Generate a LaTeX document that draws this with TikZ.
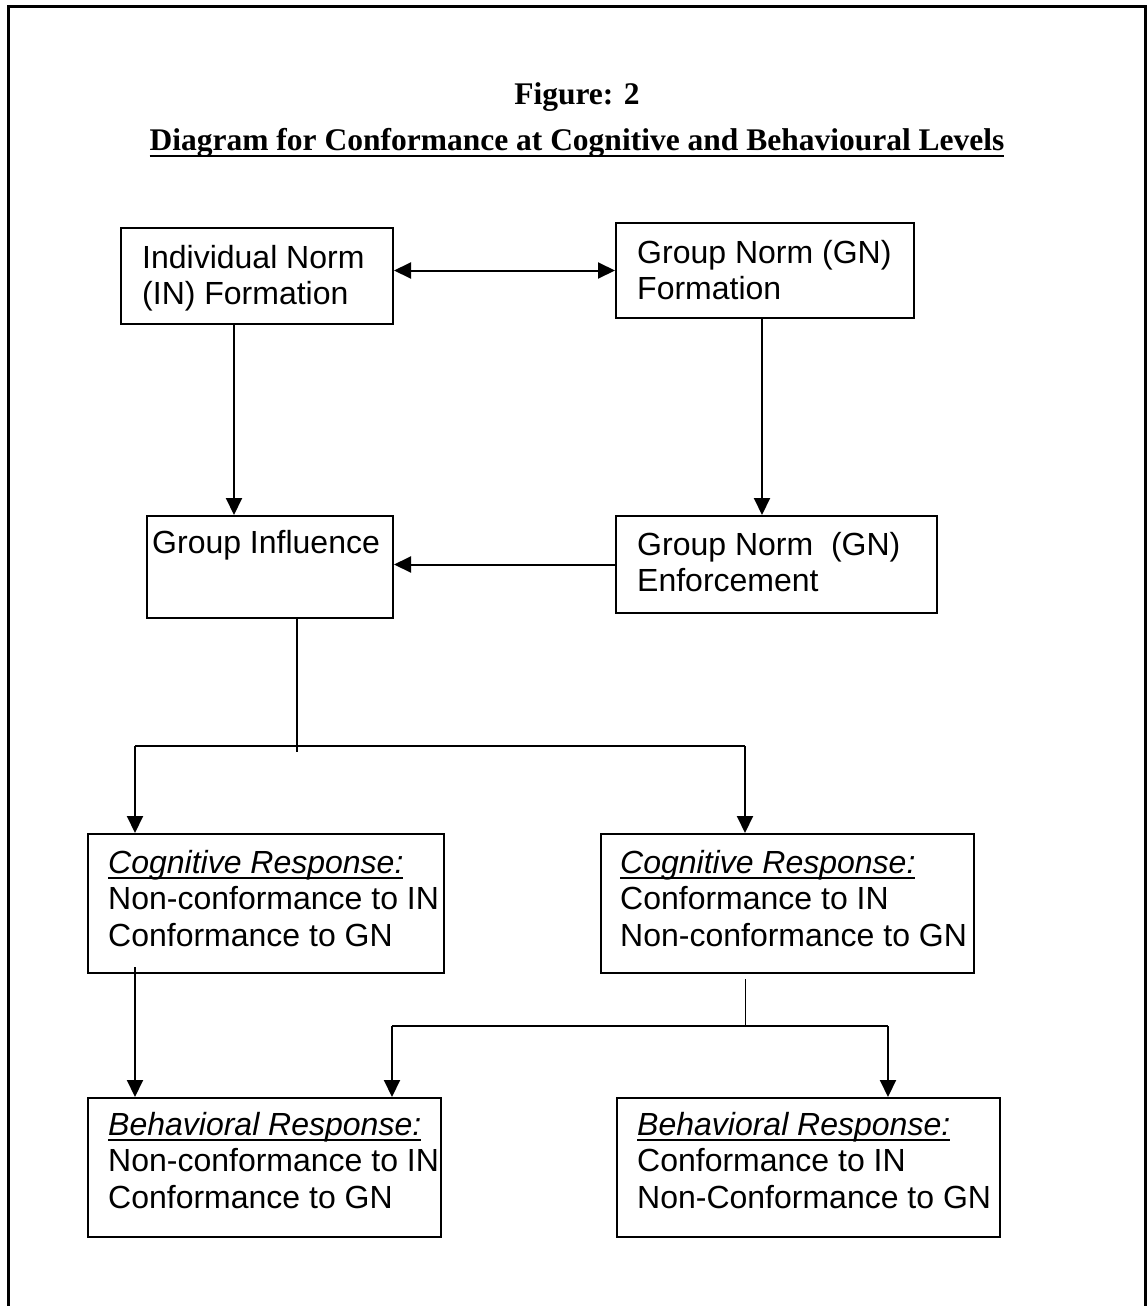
\documentclass[tikz,border=0pt]{standalone}
\usepackage{fontspec}
\setmainfont{Liberation Sans}
\newfontfamily\ttlfont{Liberation Serif}
\usetikzlibrary{arrows.meta}
% underline with a rule of our own: #1 = depth of the rule
\newcommand{\undl}[2]{\setbox0\hbox{#2}\rlap{\rule[-#1]{\wd0}{2pt}}\box0}
\begin{document}
\begin{tikzpicture}[x=1pt,y=-1pt,>={Triangle[length=17pt,width=16pt]}, line join=miter,
	box/.style={draw, line width=2pt, anchor=north west, inner sep=0pt},
	txt/.style={anchor=base west, align=left, inner sep=0pt, font=\fontsize{32pt}{36.8pt}\selectfont},
	ttl/.style={anchor=base, inner sep=0pt, font=\ttlfont\bfseries\fontsize{31.5pt}{36pt}\selectfont},
	con/.style={line width=2pt}]
	\useasboundingbox (0,0) rectangle (1147,1306);
	% frame
	\draw[line width=3pt] (8,1306) -- (8,7) -- (1145.5,7) -- (1145.5,1306);
	% titles
	\node[ttl] (fig) at (577,104) {Figure: 2};
	\node[ttl] (head) at (577,150) {\undl{7pt}{Diagram for Conformance at Cognitive and Behavioural Levels}};
	% boxes
	\node[box, minimum width=272, minimum height=96] (in) at (120,227) {};
	\node[box, minimum width=298, minimum height=95] (gnf) at (615,222) {};
	\node[box, minimum width=246, minimum height=102] (gi) at (146,515) {};
	\node[box, minimum width=321, minimum height=97] (enf) at (615,515) {};
	\node[box, minimum width=356, minimum height=139] (cogL) at (87,833) {};
	\node[box, minimum width=373, minimum height=139] (cogR) at (600,833) {};
	\node[box, minimum width=353, minimum height=139] (behL) at (87,1097) {};
	\node[box, minimum width=383, minimum height=139] (behR) at (616,1097) {};
	% texts (base = last line)
	\node[txt] (inT) at ([shift={(22pt,-77.8pt)}]in.north west) {Individual Norm\\(IN) Formation};
	\node[txt] (gnfT) at ([shift={(22pt,-77.8pt)}]gnf.north west) {Group Norm (GN)\\Formation};
	\node[txt] (giT) at ([shift={(6pt,-38pt)}]gi.north west) {Group Influence};
	\node[txt] (enfT) at ([shift={(22pt,-76.8pt)}]enf.north west) {Group Norm\ \ (GN)\\Enforcement};
	\node[txt] (cogLT) at ([shift={(21pt,-113.6pt)}]cogL.north west) {\undl{6pt}{\itshape Cognitive Response:}\\Non-conformance to IN\\Conformance to GN};
	\node[txt] (cogRT) at ([shift={(20pt,-113.6pt)}]cogR.north west) {\undl{6pt}{\itshape Cognitive Response:}\\Conformance to IN\\Non-conformance to GN};
	\node[txt] (behLT) at ([shift={(21pt,-111.6pt)}]behL.north west) {\undl{6pt}{\itshape Behavioral Response:}\\Non-conformance to IN\\Conformance to GN};
	\node[txt] (behRT) at ([shift={(21pt,-111.6pt)}]behR.north west) {\undl{6pt}{\itshape Behavioral Response:}\\Conformance to IN\\Non-Conformance to GN};
	% branch points
	\coordinate (brA) at (135,746);
	\coordinate (brB) at (745,746);
	\coordinate (brC) at (392,1026);
	\coordinate (brD) at (888,1026);
	% connectors
	\draw[con,<->] (gnf.west -| in.east) -- (gnf.west);
	\draw[con,->] ([xshift=-23pt]in.south) -- ([xshift=-23pt]in.south |- gi.north);
	\draw[con,->] ([xshift=-3pt]gnf.south) -- ([xshift=-3pt]gnf.south |- enf.north);
	\draw[con,->] (enf.west) -- (enf.west -| gi.east);
	\draw[con] ([xshift=27pt]gi.south) -- ++(0,133);
	\draw[con] (brA) -- (brB);
	\draw[con,->] (brA) -- (brA |- cogL.north);
	\draw[con,->] (brB) -- (brB |- cogR.north);
	\draw[con,->] (brA |- cogL.south) ++(0,-7) -- (brA |- behL.north);
	\draw[line width=1pt] ([yshift=-5pt]brB |- cogR.south) -- (brB |- brC);
	\draw[con] (brC) -- (brD);
	\draw[con,->] (brC) -- (brC |- behL.north);
	\draw[con,->] (brD) -- (brD |- behR.north);
\end{tikzpicture}
\end{document}
